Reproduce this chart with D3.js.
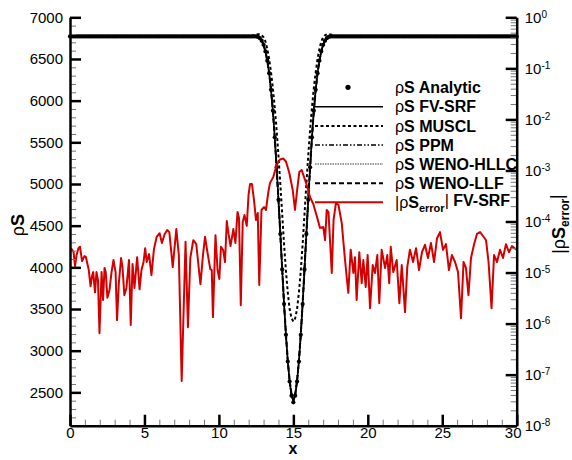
<!DOCTYPE html>
<html>
<head>
<meta charset="utf-8">
<script src="https://cdn.jsdelivr.net/npm/d3@7"></script>
<style>
  body { margin: 0; background: #fff; }
  svg { display: block; font-family: "Liberation Sans", Arial, sans-serif; }
</style>
</head>
<body>
<div id="chart"></div>
<script>
// ---- data ----
// density dip: samples every 0.125 in x, mirrored around x = 15
var step = 0.125;
var center = 15;
var baseline = 6770;
var xTicks = [0, 5, 10, 15, 20, 25, 30];
var yTicks = [2500, 3000, 3500, 4000, 4500, 5000, 5500, 6000, 6500, 7000];
var errTicks = [1e-8, 1e-7, 1e-6, 1e-5, 1e-4, 1e-3, 1e-2, 1e-1, 1];

var analyticDip = [2380, 2460, 2630, 2870, 3190, 3560, 3975, 4400, 4810, 5200,
  5560, 5880, 6130, 6330, 6480, 6590, 6670, 6720, 6750, 6765];
var fvsrfDip = [2390, 2465, 2630, 2870, 3190, 3560, 3975, 4400, 4810, 5200,
  5560, 5880, 6130, 6330, 6480, 6590, 6670, 6720, 6750, 6765];
var musclDip = [3350, 3390, 3500, 3700, 3960, 4280, 4640, 5000, 5340, 5650,
  5920, 6150, 6340, 6500, 6620, 6710, 6760, 6785, 6795, 6798, 6795, 6788, 6780, 6774];
var ppmDip = [2395, 2470, 2635, 2875, 3195, 3565, 3980, 4400, 4810, 5200,
  5560, 5880, 6130, 6330, 6480, 6590, 6670, 6720, 6750, 6765];
var wenoHllcDip = [2400, 2475, 2640, 2880, 3200, 3570, 3980, 4405, 4810, 5200,
  5560, 5880, 6130, 6330, 6480, 6590, 6670, 6720, 6750, 6765];
var wenoLlfDip = [2405, 2480, 2645, 2885, 3205, 3570, 3985, 4405, 4815, 5200,
  5560, 5880, 6130, 6330, 6480, 6590, 6670, 6720, 6750, 6765];

// |rhoS error| of FV-SRF (right, log axis)
var errX = [0.03, 0.11, 0.24, 0.34, 0.44, 0.57, 0.67, 0.81, 0.97, 1.07,
  1.26, 1.38, 1.48, 1.56, 1.68, 1.78, 1.88, 1.98, 2.12, 2.22,
  2.32, 2.40, 2.51, 2.65, 2.79, 2.92, 3.06, 3.16, 3.28, 3.43,
  3.53, 3.65, 3.79, 3.96, 4.08, 4.20, 4.33, 4.51, 4.67, 4.80,
  4.94, 5.05, 5.15, 5.31, 5.47, 5.64, 5.82, 6.02, 6.17, 6.36,
  6.53, 6.67, 6.90, 7.14, 7.31, 7.50, 7.76, 7.92, 8.08, 8.28,
  8.48, 8.76, 8.93, 9.07, 9.23, 9.42, 9.52, 9.60, 9.77, 9.91,
  10.03, 10.14, 10.28, 10.41, 10.53, 10.64, 10.78, 10.97, 11.11, 11.25,
  11.35, 11.47, 11.60, 11.72, 11.87, 11.99, 12.09, 12.22, 12.36, 12.49,
  12.61, 12.71, 12.86, 13.03, 13.16, 13.32, 13.43, 13.65, 13.88, 14.10,
  14.33, 14.51, 14.73, 14.96, 15.11, 15.23, 15.40, 15.56, 15.72, 15.90,
  16.12, 16.34, 16.57, 16.79, 17.01, 17.13, 17.24, 17.36, 17.58, 17.70,
  17.86, 18.03, 18.25, 18.47, 18.69, 18.85, 19.03, 19.14, 19.25, 19.43,
  19.59, 19.70, 19.86, 19.99, 20.15, 20.33, 20.48, 20.64, 20.77, 20.93,
  21.16, 21.31, 21.44, 21.54, 21.71, 21.94, 22.12, 22.28, 22.50, 22.65,
  22.83, 23.04, 23.24, 23.44, 23.64, 23.84, 24.04, 24.24, 24.45, 24.65,
  24.85, 25.05, 25.25, 25.45, 25.65, 25.86, 26.06, 26.26, 26.43, 26.59,
  26.76, 26.93, 27.13, 27.33, 27.54, 27.74, 27.94, 28.11, 28.31, 28.48,
  28.68, 28.88, 29.08, 29.28, 29.48, 29.68, 29.99];
var errV = [2.8e-5, 2.9e-5, 2.5e-5, 1.34e-5, 2.2e-5, 3.0e-5, 3.2e-5, 1.68e-5, 2.1e-5, 2.0e-5,
  1.12e-5, 5.4e-6, 8.5e-6, 1.02e-5, 4.1e-6, 1.02e-5, 7.1e-6, 6.5e-7, 1.02e-5, 2.9e-6,
  1.23e-5, 1.02e-5, 3.2e-6, 4.5e-6, 1.02e-5, 1.76e-5, 1.02e-5, 1.17e-6, 6.2e-6, 1.93e-5,
  1.23e-5, 3.6e-6, 5.0e-6, 1.76e-5, 9.4e-7, 1.47e-5, 5.0e-6, 2.0e-5, 4.7e-6, 1.12e-5,
  1.61e-5, 3.0e-5, 1.61e-5, 2.3e-5, 8.9e-6, 2.9e-5, 5.0e-5, 5.9e-5, 3.8e-5, 5.7e-5,
  6.8e-5, 6.2e-5, 1.28e-5, 7.1e-5, 2.2e-5, 7.5e-8, 4.0e-5, 8.5e-7, 1.93e-5, 4.3e-5,
  3.6e-5, 5.9e-6, 2.2e-5, 5.0e-5, 2.5e-5, 1.17e-5, 1.12e-5, 1.34e-6, 5.4e-5, 1.12e-5,
  7.5e-6, 3.2e-5, 2.8e-5, 1.61e-5, 1.02e-4, 5.9e-5, 3.3e-5, 7.1e-5, 3.8e-5, 1.53e-4,
  1.17e-4, 2.3e-6, 9.8e-5, 1.34e-4, 8.2e-5, 3.3e-4, 5.4e-4, 5.4e-4, 2.6e-4, 1.07e-4,
  1.47e-4, 5.7e-6, 1.68e-4, 1.92e-4, 1.68e-4, 3.8e-4, 5.7e-4, 7.4e-4, 1.28e-3, 1.64e-3,
  1.71e-3, 1.48e-3, 8.9e-4, 4.1e-4, 1.68e-4, 3.6e-4, 9.3e-4, 1.02e-3, 7.4e-4, 5.2e-4,
  3.0e-4, 2.2e-4, 1.28e-4, 7.5e-5, 7.8e-5, 4.3e-5, 1.68e-4, 1.53e-4, 9.8e-6, 1.07e-4,
  2.3e-4, 2.1e-4, 9.3e-5, 1.76e-5, 4.0e-6, 2.8e-5, 9.8e-6, 2.0e-5, 2.9e-6, 2.5e-5,
  6.2e-6, 1.76e-5, 5.2e-6, 2.2e-5, 2.0e-6, 1.40e-5, 9.8e-6, 2.2e-5, 2.5e-6, 2.8e-5,
  1.23e-5, 2.2e-5, 6.2e-6, 3.2e-5, 1.02e-5, 1.76e-5, 2.5e-6, 1.40e-5, 1.68e-6, 1.28e-5,
  2.8e-5, 1.61e-5, 3.0e-5, 1.12e-5, 2.5e-5, 3.5e-5, 1.93e-5, 3.8e-5, 1.61e-5, 4.7e-5,
  6.2e-5, 2.8e-5, 3.6e-5, 1.12e-5, 2.2e-5, 1.61e-5, 1.02e-5, 1.28e-6, 1.61e-5, 1.23e-5,
  3.6e-6, 1.93e-5, 3.5e-5, 5.7e-5, 6.2e-5, 5.2e-5, 4.3e-5, 1.61e-5, 2.0e-6, 2.2e-5,
  1.61e-5, 2.8e-5, 1.93e-5, 3.6e-5, 2.5e-5, 3.3e-5, 2.8e-5];

// ---- chart ----
var width = 572, height = 460;
var plotL = 70, plotR = 516.7, plotT = 17.3, plotB = 425.7;
var fontFam = '"Liberation Sans", Arial, sans-serif';
var red = "#d40000";

var svg = d3.select("#chart").append("svg")
  .attr("width", width)
  .attr("height", height);

var x = d3.scaleLinear().domain([0, 30]).range([plotL, plotR]);
var y = d3.scaleLinear().domain([2100, 7000]).range([plotB, plotT]);
var yErr = d3.scaleLog().domain([1e-8, 1]).range([plotB, plotT]);

// build a full series from the mirrored dip samples
var gridX = d3.range(241).map(function(i) { return i * step; });
function series(dip) {
  return gridX.map(function(xv) {
    var k = Math.round(Math.abs(xv - center) / step);
    return { x: xv, v: k < dip.length ? dip[k] : baseline };
  });
}

var line = d3.line()
  .x(function(d) { return x(d.x); })
  .y(function(d) { return y(d.v); });

var schemes = [
  { name: "WENO-HLLC", dip: wenoHllcDip, stroke: "#999", width: 2, dash: "1.5,1" },
  { name: "WENO-LLF", dip: wenoLlfDip, stroke: "#000", width: 2, dash: "5,3" },
  { name: "PPM", dip: ppmDip, stroke: "#000", width: 1.6, dash: "5,2,1.5,2,1.5,2" },
  { name: "FV-SRF", dip: fvsrfDip, stroke: "#000", width: 1.6, dash: null },
  { name: "MUSCL", dip: musclDip, stroke: "#000", width: 2, dash: "3,2.5" }
];

schemes.forEach(function(s) {
  svg.append("path")
    .datum(series(s.dip))
    .attr("d", line)
    .attr("fill", "none")
    .attr("stroke", s.stroke)
    .attr("stroke-width", s.width)
    .attr("stroke-dasharray", s.dash);
});

svg.append("g")
  .selectAll("circle")
  .data(series(analyticDip))
  .enter().append("circle")
  .attr("cx", function(d) { return x(d.x); })
  .attr("cy", function(d) { return y(d.v); })
  .attr("r", 2.1)
  .attr("fill", "#000");

var errData = errX.map(function(xv, i) { return { x: xv, v: errV[i] }; });
svg.append("path")
  .datum(errData)
  .attr("d", d3.line()
    .x(function(d) { return x(d.x); })
    .y(function(d) { return yErr(d.v); }))
  .attr("fill", "none")
  .attr("stroke", red)
  .attr("stroke-width", 2)
  .attr("stroke-linejoin", "round");

// ---- axes ----
function styleAxis(g) {
  g.attr("font-size", 15).attr("font-family", fontFam);
  g.selectAll(".tick line").attr("stroke-width", 2.5);
  g.selectAll("text").attr("fill", "#000");
}
function minor(g) {
  g.select(".domain").remove();
  g.selectAll(".tick line").attr("stroke", "#777").attr("stroke-width", 1);
}

var minorY = d3.range(2100, 7000, 100).filter(function(v) { return v % 500 !== 0; });
var minorX = d3.range(1, 30).filter(function(v) { return v % 5 !== 0; });
var minorErr = [];
for (var e = -8; e < 0; e++) {
  for (var m = 2; m <= 9; m++) minorErr.push(m * Math.pow(10, e));
}

svg.append("g")
  .attr("transform", "translate(" + plotL + ",0)")
  .call(d3.axisLeft(y).tickValues(minorY).tickSize(-6).tickFormat(""))
  .call(minor);
svg.append("g")
  .attr("transform", "translate(0," + plotB + ")")
  .call(d3.axisBottom(x).tickValues(minorX).tickSize(-6).tickFormat(""))
  .call(minor);
svg.append("g")
  .attr("transform", "translate(" + plotR + ",0)")
  .call(d3.axisRight(yErr).tickValues(minorErr).tickSize(-6).tickFormat(""))
  .call(minor);

svg.append("g")
  .attr("transform", "translate(" + plotL + ",0)")
  .call(d3.axisLeft(y).tickValues(yTicks).tickSize(-11).tickSizeOuter(0)
    .tickPadding(7).tickFormat(d3.format("d")))
  .call(styleAxis)
  .call(function(g) { g.select(".domain").attr("stroke-width", 2.5); });

var xAxis = svg.append("g")
  .attr("transform", "translate(0," + plotB + ")")
  .call(d3.axisBottom(x).tickValues(xTicks).tickSize(-11).tickSizeOuter(0).tickPadding(2))
  .call(styleAxis)
  .call(function(g) { g.select(".domain").attr("stroke-width", 2.5); });
xAxis.selectAll(".tick text").filter(function(d) { return d === 30; }).attr("dx", -4);

var rAxis = svg.append("g")
  .attr("transform", "translate(" + plotR + ",0)")
  .call(d3.axisRight(yErr).tickValues(errTicks).tickSize(-11).tickSizeOuter(0).tickFormat(""))
  .call(styleAxis)
  .call(function(g) { g.select(".domain").attr("stroke-width", 2.5); });
rAxis.selectAll(".tick text").remove();
rAxis.selectAll(".tick").append("text")
  .attr("x", 8)
  .attr("dy", "0.35em")
  .attr("text-anchor", "start")
  .attr("fill", "#000")
  .each(function(d) {
    var t = d3.select(this);
    var p = Math.round(Math.log10(d));
    t.append("tspan").text("10");
    t.append("tspan").attr("dy", "-0.55em").attr("font-size", 10)
      .text(p === 0 ? "0" : "-" + Math.abs(p));
  });

// ---- axis titles ----
var yTitle = svg.append("text")
  .attr("transform", "translate(24,225) rotate(-90)")
  .attr("text-anchor", "middle")
  .attr("font-family", fontFam)
  .attr("font-size", 18);
yTitle.append("tspan").text("ρ");
yTitle.append("tspan").attr("font-weight", "bold").text("S");

svg.append("text")
  .attr("x", 293).attr("y", 454)
  .attr("text-anchor", "middle")
  .attr("font-family", fontFam)
  .attr("font-size", 16)
  .attr("font-weight", "bold")
  .text("x");

var rTitle = svg.append("text")
  .attr("transform", "translate(565,224) rotate(-90)")
  .attr("text-anchor", "middle")
  .attr("font-family", fontFam)
  .attr("font-size", 18);
rTitle.append("tspan").text("|ρ");
rTitle.append("tspan").attr("font-weight", "bold").text("S");
rTitle.append("tspan").attr("font-weight", "bold").attr("font-size", 12).attr("dy", "0.3em").text("error");
rTitle.append("tspan").attr("dy", "-0.3em").text("|");

// ---- legend ----
var legendRows = [
  { label: "Analytic", kind: "dot" },
  { label: "FV-SRF", stroke: "#000", width: 1.6, dash: null },
  { label: "MUSCL", stroke: "#000", width: 2, dash: "3,2.5" },
  { label: "PPM", stroke: "#000", width: 1.6, dash: "5,2,1.5,2,1.5,2" },
  { label: "WENO-HLLC", stroke: "#999", width: 2, dash: "1.5,1" },
  { label: "WENO-LLF", stroke: "#000", width: 2, dash: "5,3" },
  { label: "FV-SRF", stroke: red, width: 2, dash: null, err: true }
];
var legendY = [87.3, 106.7, 126, 145, 164, 183.3, 202.3];

var legend = svg.append("g");
legendRows.forEach(function(r, i) {
  var ly = legendY[i];
  if (r.kind === "dot") {
    legend.append("circle").attr("cx", 348).attr("cy", ly).attr("r", 2.6).attr("fill", "#000");
  } else {
    legend.append("line")
      .attr("x1", 315).attr("x2", 383).attr("y1", ly).attr("y2", ly)
      .attr("stroke", r.stroke).attr("stroke-width", r.width)
      .attr("stroke-dasharray", r.dash);
  }
  var t = legend.append("text")
    .attr("x", 395).attr("y", ly).attr("dy", "0.36em")
    .attr("font-family", fontFam).attr("font-size", 16);
  if (r.err) {
    t.append("tspan").text("|ρ");
    t.append("tspan").attr("font-weight", "bold").text("S");
    t.append("tspan").attr("font-weight", "bold").attr("font-size", 11).attr("dy", "0.35em").text("error");
    t.append("tspan").attr("dy", "-0.35em").text("| ");
    t.append("tspan").attr("font-weight", "bold").text(r.label);
  } else {
    t.append("tspan").text("ρ");
    t.append("tspan").attr("font-weight", "bold").text("S " + r.label);
  }
});
</script>
</body>
</html>
